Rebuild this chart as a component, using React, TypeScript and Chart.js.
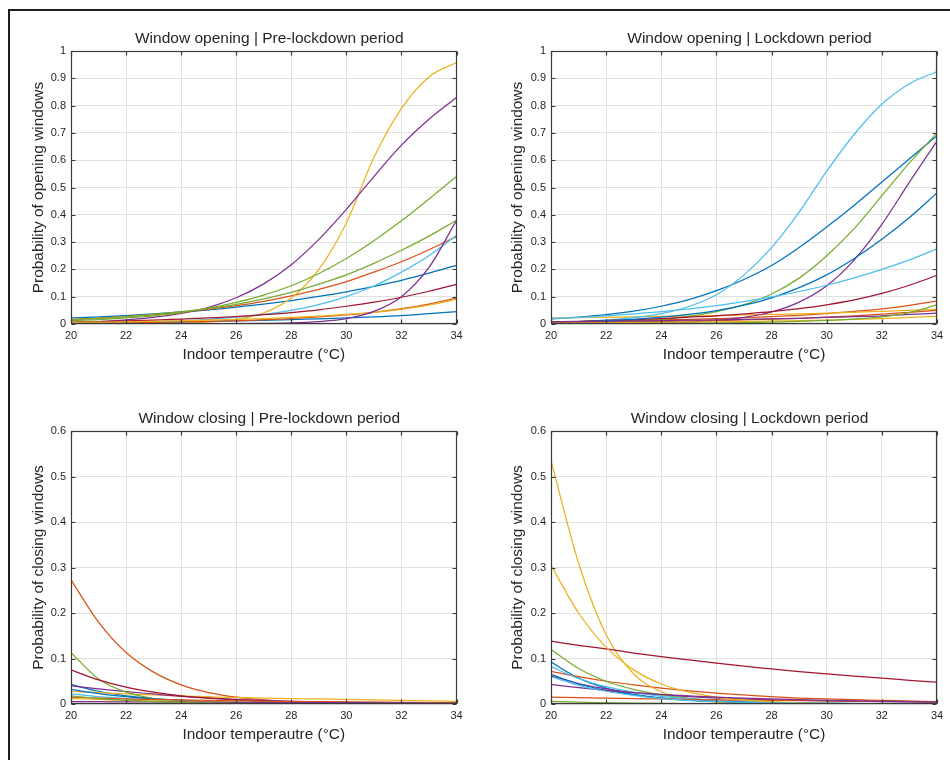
import React, { useEffect, useRef } from 'react';
import { Chart, registerables } from 'chart.js';

Chart.register(...registerables);

// ---------- data ----------
const temperatures = [20, 21, 22, 23, 24, 25, 26, 27, 28, 29, 30, 31, 32, 33, 34];
const xTickValues = [20, 22, 24, 26, 28, 30, 32, 34];
const openingTickValues = [0, 0.1, 0.2, 0.3, 0.4, 0.5, 0.6, 0.7, 0.8, 0.9, 1];
const openingTickLabels = ['0', '0.1', '0.2', '0.3', '0.4', '0.5', '0.6', '0.7', '0.8', '0.9', '1'];
const closingTickValues = [0, 0.1, 0.2, 0.3, 0.4, 0.5, 0.6];
const closingTickLabels = ['0', '0.1', '0.2', '0.3', '0.4', '0.5', '0.6'];

const BLUE = '#0072BD';
const RED = '#D95319';
const YELLOW = '#EDB120';
const PURPLE = '#7E2F8E';
const GREEN = '#77AC30';
const LIGHTBLUE = '#4DBEEE';
const DARKRED = '#A2142F';

const colorsOf12 = [BLUE, RED, YELLOW, PURPLE, GREEN, LIGHTBLUE, DARKRED, BLUE, RED, YELLOW, PURPLE, GREEN];
const colorsOf13 = [BLUE, RED, YELLOW, PURPLE, GREEN, LIGHTBLUE, DARKRED, BLUE, RED, YELLOW, PURPLE, GREEN, LIGHTBLUE];

const preLockdownOpening: number[][] = [
  [0.022, 0.026, 0.031, 0.037, 0.044, 0.052, 0.062, 0.073, 0.086, 0.101, 0.118, 0.138, 0.160, 0.186, 0.215],
  [0.017, 0.021, 0.027, 0.034, 0.043, 0.054, 0.067, 0.083, 0.103, 0.127, 0.155, 0.190, 0.228, 0.272, 0.320],
  [0.0001, 0.0002, 0.0005, 0.0013, 0.003, 0.007, 0.017, 0.041, 0.095, 0.20, 0.37, 0.61, 0.79, 0.905, 0.958],
  [0.006, 0.009, 0.015, 0.024, 0.039, 0.061, 0.096, 0.147, 0.217, 0.31, 0.42, 0.54, 0.655, 0.75, 0.83],
  [0.012, 0.016, 0.022, 0.030, 0.042, 0.058, 0.079, 0.106, 0.140, 0.185, 0.240, 0.305, 0.378, 0.458, 0.540],
  [0.003, 0.004, 0.006, 0.009, 0.012, 0.017, 0.025, 0.035, 0.050, 0.071, 0.100, 0.139, 0.190, 0.250, 0.325],
  [0.007, 0.009, 0.011, 0.014, 0.018, 0.022, 0.027, 0.034, 0.042, 0.052, 0.065, 0.080, 0.098, 0.120, 0.145],
  [0.004, 0.005, 0.006, 0.007, 0.008, 0.010, 0.011, 0.013, 0.016, 0.019, 0.022, 0.026, 0.031, 0.038, 0.045],
  [0.003, 0.004, 0.005, 0.006, 0.008, 0.010, 0.012, 0.016, 0.020, 0.026, 0.033, 0.043, 0.056, 0.073, 0.095],
  [0.006, 0.007, 0.008, 0.010, 0.012, 0.014, 0.017, 0.020, 0.024, 0.029, 0.035, 0.043, 0.054, 0.069, 0.090],
  [0.0, 0.0, 0.0, 0.0001, 0.0003, 0.0006, 0.001, 0.002, 0.004, 0.009, 0.020, 0.046, 0.100, 0.207, 0.380],
  [0.016, 0.021, 0.027, 0.035, 0.045, 0.057, 0.072, 0.092, 0.116, 0.146, 0.180, 0.222, 0.270, 0.322, 0.380],
];

const lockdownOpening: number[][] = [
  [0.018, 0.025, 0.034, 0.047, 0.065, 0.089, 0.122, 0.163, 0.214, 0.28, 0.355, 0.435, 0.52, 0.605, 0.69],
  [0.008, 0.009, 0.011, 0.013, 0.015, 0.017, 0.020, 0.023, 0.027, 0.032, 0.038, 0.046, 0.055, 0.068, 0.085],
  [0.022, 0.023, 0.025, 0.026, 0.028, 0.029, 0.031, 0.033, 0.035, 0.037, 0.040, 0.043, 0.046, 0.050, 0.054],
  [0.0003, 0.0006, 0.001, 0.002, 0.004, 0.007, 0.013, 0.024, 0.044, 0.08, 0.14, 0.235, 0.365, 0.52, 0.67],
  [0.0025, 0.004, 0.0065, 0.011, 0.017, 0.028, 0.045, 0.071, 0.11, 0.168, 0.25, 0.35, 0.47, 0.59, 0.70],
  [0.006, 0.009, 0.014, 0.023, 0.038, 0.064, 0.107, 0.18, 0.28, 0.41, 0.56, 0.695, 0.805, 0.88, 0.925],
  [0.008, 0.010, 0.013, 0.016, 0.020, 0.025, 0.030, 0.037, 0.045, 0.056, 0.070, 0.088, 0.112, 0.142, 0.178],
  [0.006, 0.009, 0.012, 0.017, 0.025, 0.035, 0.049, 0.069, 0.096, 0.133, 0.18, 0.24, 0.31, 0.39, 0.48],
  [0.005, 0.006, 0.007, 0.008, 0.009, 0.011, 0.013, 0.015, 0.018, 0.021, 0.025, 0.030, 0.036, 0.043, 0.050],
  [0.003, 0.004, 0.004, 0.005, 0.006, 0.007, 0.008, 0.009, 0.011, 0.012, 0.014, 0.017, 0.020, 0.024, 0.028],
  [0.008, 0.009, 0.010, 0.011, 0.012, 0.014, 0.015, 0.017, 0.019, 0.021, 0.024, 0.027, 0.030, 0.035, 0.040],
  [0.0005, 0.0007, 0.001, 0.0014, 0.002, 0.0027, 0.0036, 0.005, 0.0068, 0.0093, 0.013, 0.018, 0.026, 0.042, 0.070],
  [0.020, 0.024, 0.030, 0.037, 0.045, 0.055, 0.067, 0.082, 0.099, 0.119, 0.142, 0.169, 0.200, 0.235, 0.275],
];

const preLockdownClosing: number[][] = [
  [0.043, 0.028, 0.018, 0.012, 0.008, 0.005, 0.003, 0.002, 0.0013, 0.0009, 0.0006, 0.0004, 0.0003, 0.0002, 0.0001],
  [0.273, 0.18, 0.113, 0.07, 0.042, 0.025, 0.015, 0.009, 0.005, 0.003, 0.002, 0.0012, 0.0007, 0.0004, 0.0002],
  [0.028, 0.025, 0.022, 0.020, 0.018, 0.016, 0.014, 0.013, 0.012, 0.011, 0.010, 0.009, 0.008, 0.007, 0.006],
  [0.040, 0.033, 0.027, 0.022, 0.017, 0.013, 0.010, 0.008, 0.006, 0.005, 0.004, 0.0035, 0.003, 0.0025, 0.002],
  [0.113, 0.055, 0.026, 0.012, 0.0055, 0.0025, 0.0011, 0.0005, 0.0002, 0.0001, 0, 0, 0, 0, 0],
  [0.022, 0.016, 0.012, 0.009, 0.007, 0.005, 0.004, 0.003, 0.002, 0.0015, 0.001, 0.0008, 0.0006, 0.0004, 0.0003],
  [0.075, 0.053, 0.037, 0.026, 0.018, 0.013, 0.009, 0.0065, 0.0047, 0.0034, 0.0025, 0.0018, 0.0013, 0.0009, 0.0007],
  [0.032, 0.023, 0.016, 0.011, 0.008, 0.005, 0.0035, 0.0024, 0.0017, 0.0012, 0.0008, 0.0006, 0.0004, 0.0003, 0.0002],
  [0.015, 0.013, 0.011, 0.010, 0.009, 0.008, 0.007, 0.006, 0.0055, 0.005, 0.0045, 0.004, 0.0035, 0.003, 0.003],
  [0.012, 0.010, 0.008, 0.007, 0.006, 0.005, 0.004, 0.0035, 0.003, 0.0025, 0.002, 0.0018, 0.0015, 0.0013, 0.001],
  [0.005, 0.005, 0.0045, 0.0045, 0.004, 0.004, 0.0035, 0.0035, 0.003, 0.003, 0.003, 0.0025, 0.0025, 0.002, 0.002],
  [0.018, 0.012, 0.008, 0.005, 0.003, 0.002, 0.0013, 0.0008, 0.0005, 0.0003, 0.0002, 0.0001, 0.0001, 0, 0],
];

const lockdownClosing: number[][] = [
  [0.092, 0.057, 0.035, 0.021, 0.013, 0.008, 0.005, 0.003, 0.0018, 0.0011, 0.0007, 0.0004, 0.0003, 0.0002, 0.0001],
  [0.072, 0.060, 0.050, 0.042, 0.035, 0.029, 0.024, 0.020, 0.016, 0.013, 0.011, 0.0095, 0.008, 0.0065, 0.005],
  [0.535, 0.31, 0.152, 0.066, 0.027, 0.011, 0.0043, 0.0017, 0.0007, 0.0003, 0.0001, 0, 0, 0, 0],
  [0.062, 0.045, 0.033, 0.025, 0.020, 0.016, 0.013, 0.011, 0.009, 0.008, 0.007, 0.006, 0.005, 0.0045, 0.004],
  [0.12, 0.078, 0.05, 0.032, 0.02, 0.0125, 0.008, 0.005, 0.003, 0.0019, 0.0012, 0.0008, 0.0005, 0.0003, 0.0002],
  [0.082, 0.056, 0.038, 0.026, 0.017, 0.012, 0.008, 0.0055, 0.0037, 0.0025, 0.0017, 0.0011, 0.0008, 0.0005, 0.0003],
  [0.138, 0.129, 0.121, 0.112, 0.104, 0.097, 0.090, 0.083, 0.077, 0.071, 0.066, 0.061, 0.057, 0.052, 0.048],
  [0.065, 0.044, 0.030, 0.020, 0.013, 0.009, 0.006, 0.004, 0.0027, 0.0018, 0.0012, 0.0008, 0.0005, 0.0004, 0.0002],
  [0.015, 0.014, 0.013, 0.012, 0.011, 0.010, 0.009, 0.0085, 0.008, 0.0075, 0.007, 0.0065, 0.006, 0.0055, 0.005],
  [0.305, 0.2, 0.125, 0.075, 0.044, 0.026, 0.015, 0.0087, 0.005, 0.0028, 0.0016, 0.0009, 0.0005, 0.0003, 0.0002],
  [0.043, 0.036, 0.030, 0.025, 0.021, 0.018, 0.015, 0.013, 0.011, 0.0095, 0.008, 0.007, 0.006, 0.005, 0.004],
  [0.006, 0.004, 0.003, 0.002, 0.0013, 0.0009, 0.0006, 0.0004, 0.0003, 0.0002, 0.0001, 0.0001, 0, 0, 0],
  [0.060, 0.041, 0.028, 0.019, 0.012, 0.008, 0.0055, 0.0037, 0.0025, 0.0017, 0.0011, 0.0007, 0.0005, 0.0003, 0.0002],
];

// ---------- styling ----------
const FONT = "'Liberation Sans', Arial, Helvetica, sans-serif";
const TEXT = '#262626';
const GRID = '#e0e0e0';
const AXIS = '#3a3a3a';
const TITLE_SHIFT = 5.5;

const matlabBox = {
  id: 'matlabBox',
  afterLayout(chart: any) {
    const tb = chart.titleBlock;
    const a = chart.chartArea;
    if (tb && a) {
      tb.left = a.left + TITLE_SHIFT;
      tb.right = a.right + TITLE_SHIFT;
      tb.width = tb.right - tb.left;
    }
  },
  afterDatasetsDraw(chart: any) {
    const { ctx, chartArea: a, scales } = chart;
    const L = Math.round(a.left) + 0.5;
    const R = Math.round(a.right) - 0.5;
    const T = Math.round(a.top) + 0.5;
    const B = Math.round(a.bottom) - 0.5;
    ctx.save();
    ctx.strokeStyle = AXIS;
    ctx.lineWidth = 1.2;
    ctx.strokeRect(L, T, R - L, B - T);
    const len = 4;
    ctx.beginPath();
    for (const t of scales.x.ticks) {
      const px = Math.round(scales.x.getPixelForValue(t.value)) + 0.5;
      ctx.moveTo(px, B); ctx.lineTo(px, B - len);
      ctx.moveTo(px, T); ctx.lineTo(px, T + len);
    }
    for (const t of scales.y.ticks) {
      const py = Math.round(scales.y.getPixelForValue(t.value)) + 0.5;
      ctx.moveTo(L, py); ctx.lineTo(L + len, py);
      ctx.moveTo(R, py); ctx.lineTo(R - len, py);
    }
    ctx.stroke();
    ctx.restore();
  },
};

type PanelProps = {
  left: number;
  top: number;
  title: string;
  yTitle: string;
  series: number[][];
  colors: string[];
  yMax: number;
  yTicks: number[];
  yLabels: string[];
  axisWidth: number;
  padRight: number;
  yTitlePad: number;
};

function Panel(p: PanelProps) {
  const ref = useRef<HTMLCanvasElement | null>(null);
  useEffect(() => {
    if (!ref.current) return;
    const datasets = p.series.map((s, i) => ({
      data: temperatures.map((t, j) => ({ x: t, y: s[j] })),
      borderColor: p.colors[i],
      backgroundColor: p.colors[i],
      borderWidth: 1.25,
      pointRadius: 0,
      fill: false,
      cubicInterpolationMode: 'monotone' as const,
      order: -i,
    }));
    const chart = new Chart(ref.current, {
      type: 'line',
      data: { datasets },
      options: {
        animation: false,
        responsive: false,
        maintainAspectRatio: false,
        events: [],
        layout: { padding: { left: 0, right: p.padRight, top: 0, bottom: 0 } },
        plugins: {
          legend: { display: false },
          tooltip: { enabled: false },
          title: {
            display: true,
            text: p.title,
            color: TEXT,
            font: { family: FONT, size: 15.5, weight: 'normal' },
            padding: { top: 29.2, bottom: 3.2 },
          },
        },
        scales: {
          x: {
            type: 'linear',
            min: 20,
            max: 34,
            afterBuildTicks: (scale: any) => {
              scale.ticks = xTickValues.map((v) => ({ value: v }));
            },
            afterFit: (scale: any) => {
              scale.height = 56;
            },
            ticks: {
              color: TEXT,
              font: { family: FONT, size: 11 },
              padding: 5,
              maxRotation: 0,
              autoSkip: false,
              callback: (v: any) => String(v),
            },
            grid: { color: GRID, drawTicks: false, lineWidth: 1 },
            border: { display: false },
            title: {
              display: true,
              text: 'Indoor temperautre (°C)',
              color: TEXT,
              font: { family: FONT, size: 15.4 },
              padding: { top: 0, bottom: 15.8 },
            },
          },
          y: {
            type: 'linear',
            min: 0,
            max: p.yMax,
            afterBuildTicks: (scale: any) => {
              scale.ticks = p.yTicks.map((v) => ({ value: v }));
            },
            afterFit: (scale: any) => {
              scale.width = p.axisWidth;
            },
            ticks: {
              color: TEXT,
              font: { family: FONT, size: 11 },
              padding: 5,
              autoSkip: false,
              callback: (v: any) => {
                const idx = p.yTicks.findIndex((t) => Math.abs(t - v) < 1e-9);
                return idx >= 0 ? p.yLabels[idx] : '';
              },
            },
            grid: { color: GRID, drawTicks: false, lineWidth: 1 },
            border: { display: false },
            title: {
              display: true,
              text: p.yTitle,
              color: TEXT,
              font: { family: FONT, size: 15.4 },
              padding: { top: p.yTitlePad, bottom: 0 },
            },
          },
        },
      },
      plugins: [matlabBox],
    });
    return () => chart.destroy();
  }, []);
  return (
    <canvas
      ref={ref}
      width={475}
      height={380}
      style={{ position: 'absolute', left: p.left, top: p.top, width: 475, height: 380 }}
    />
  );
}

export default function App() {
  return (
    <div
      style={{
        position: 'fixed',
        left: 0,
        top: 0,
        width: 950,
        height: 760,
        background: '#ffffff',
        overflow: 'hidden',
      }}
    >
      <div
        style={{
          position: 'absolute',
          left: 8,
          top: 9,
          width: 2000,
          height: 2000,
          borderLeft: '2px solid #1e1e1e',
          borderTop: '2px solid #1e1e1e',
        }}
      />
      <Panel
        left={0}
        top={0}
        title="Window opening | Pre-lockdown period"
        yTitle="Probability of opening windows"
        series={preLockdownOpening}
        colors={colorsOf12}
        yMax={1}
        yTicks={openingTickValues}
        yLabels={openingTickLabels}
        axisWidth={71}
        padRight={18.5}
        yTitlePad={29.8}
      />
      <Panel
        left={475}
        top={0}
        title="Window opening | Lockdown period"
        yTitle="Probability of opening windows"
        series={lockdownOpening}
        colors={colorsOf13}
        yMax={1}
        yTicks={openingTickValues}
        yLabels={openingTickLabels}
        axisWidth={76}
        padRight={13}
        yTitlePad={33.8}
      />
      <Panel
        left={0}
        top={380}
        title="Window closing | Pre-lockdown period"
        yTitle="Probability of closing windows"
        series={preLockdownClosing}
        colors={colorsOf12}
        yMax={0.6}
        yTicks={closingTickValues}
        yLabels={closingTickLabels}
        axisWidth={71}
        padRight={18.5}
        yTitlePad={29.8}
      />
      <Panel
        left={475}
        top={380}
        title="Window closing | Lockdown period"
        yTitle="Probability of closing windows"
        series={lockdownClosing}
        colors={colorsOf13}
        yMax={0.6}
        yTicks={closingTickValues}
        yLabels={closingTickLabels}
        axisWidth={76}
        padRight={13}
        yTitlePad={33.8}
      />
    </div>
  );
}
